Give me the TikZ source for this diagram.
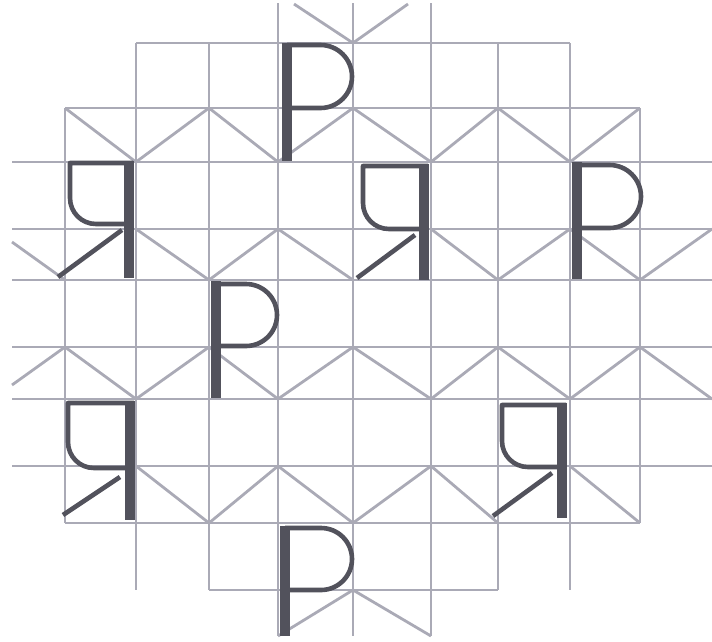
\documentclass[tikz,border=0pt]{standalone}
\definecolor{gridgray}{RGB}{170,170,182}
\definecolor{inkgray}{RGB}{82,82,92}
\tikzset{
  gridline/.style={draw=gridgray,line width=2.8pt,line join=round},
  stemline/.style={draw=inkgray,line width=10pt},
  bowlline/.style={draw=inkgray,line width=4.6pt,line join=round},
}
% P: stem x, bowl right x, bowl top y, bowl bottom y, stem top y, stem bottom y
\newcommand{\Pglyph}[6]{%
  \pgfmathsetmacro\pgR{(#4-#3)/2}%
  \pgfmathsetmacro\pgK{0.5523*\pgR}%
  \pgfmathsetmacro\pgC{#2-\pgR}%
  \pgfmathsetmacro\pgM{(#3+#4)/2}%
  \draw[bowlline] (#1,#3) -- (\pgC,#3)
    .. controls ({\pgC+\pgK},#3) and (#2,{\pgM-\pgK}) .. (#2,\pgM)
    .. controls (#2,{\pgM+\pgK}) and ({\pgC+\pgK},#4) .. (\pgC,#4) -- (#1,#4);
  \draw[stemline] (#1,#5) -- (#1,#6);
}
% Ya: left x, stem x, top y, bowl bottom y, stem bottom y, leg top x, leg top y, leg bottom x, leg bottom y
\newcommand{\Yaglyph}[9]{%
  \draw[bowlline] ({#2+4},#3) -- (#1,#3) -- (#1,{#4-26})
    .. controls (#1,{#4-11.6}) and ({#1+11.6},#4) .. ({#1+26},#4) -- (#2,#4);
  \draw[stemline] (#2,{#3-2}) -- (#2,#5);
  \draw[bowlline] (#6,#7) -- (#8,#9);
}
\begin{document}
\begin{tikzpicture}[x=1pt,y=-1pt]
\useasboundingbox (0,0) rectangle (712,641);
% horizontal grid lines
\draw[gridline] (136,43) -- (570,43);
\draw[gridline] (65,108) -- (640,108);
\foreach \yy in {162,229,280,347,399,466}
  \draw[gridline] (12,\yy) -- (712,\yy);
\draw[gridline] (65,523) -- (640,523);
\draw[gridline] (209,590) -- (498,590);
% vertical grid lines
\draw[gridline] (65,108) -- (65,523);
\draw[gridline] (640,108) -- (640,523);
\foreach \xx in {136,209,498,570}
  \draw[gridline] (\xx,43) -- (\xx,590);
\foreach \xx in {278,353,431}
  \draw[gridline] (\xx,3) -- (\xx,636);
% zigzag diagonals
\draw[gridline] (294,4) -- (353,43) -- (408,4);
\draw[gridline] (65,108) -- (136,162) -- (209,108) -- (278,162) -- (353,108)
  -- (431,162) -- (498,108) -- (570,162) -- (640,108);
\draw[gridline] (12,242) -- (65,280);
\draw[gridline] (136,229) -- (209,280) -- (278,229) -- (353,280);
\draw[gridline] (431,229) -- (498,280) -- (570,229) -- (640,280) -- (712,229);
\draw[gridline] (12,385) -- (65,347) -- (136,399) -- (209,347) -- (278,399)
  -- (353,347) -- (431,399) -- (498,347) -- (570,399) -- (640,347) -- (712,399);
\draw[gridline] (136,466) -- (209,523) -- (278,466) -- (353,523) -- (431,466) -- (498,523);
\draw[gridline] (570,466) -- (640,523);
\draw[gridline] (278,636) -- (353,590) -- (431,636);
% letters P
\Pglyph{287}{352}{45}{108}{43}{161}
\Pglyph{577}{641}{165}{228}{162}{279}
\Pglyph{216}{277}{284}{346}{281}{398}
\Pglyph{285}{352}{528}{590}{526}{636}
% letters Ya
\Yaglyph{70}{129}{163}{224}{278}{122}{230}{58}{277}
\Yaglyph{363}{424}{166}{229}{280}{415}{235}{357}{278}
\Yaglyph{68}{130}{403}{468}{520}{120}{477}{63}{515}
\Yaglyph{502}{562}{405}{467}{518}{552}{473}{493}{516}
\end{tikzpicture}
\end{document}
